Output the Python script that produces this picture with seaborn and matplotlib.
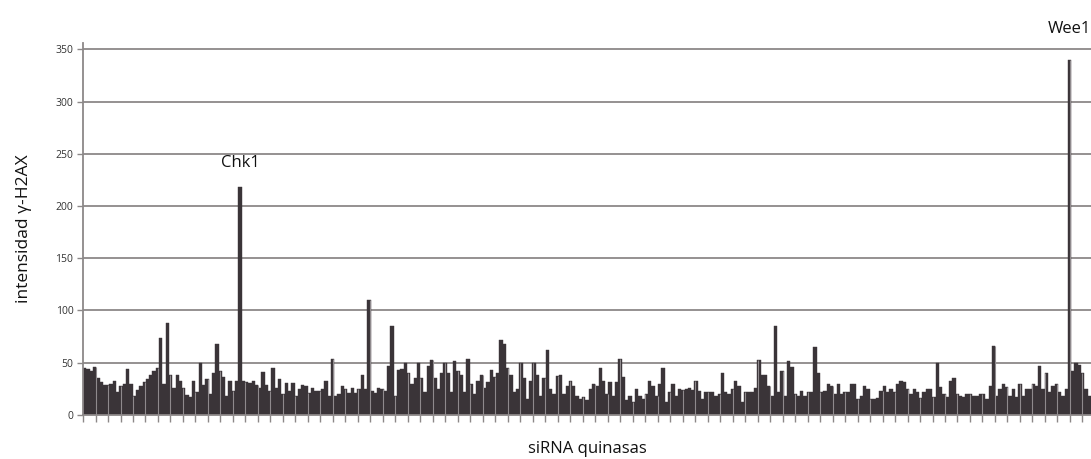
import numpy as np
import pandas as pd
import matplotlib
matplotlib.use("Agg")
import matplotlib.pyplot as plt
import seaborn as sns

# gamma-H2AX intensity for each kinase siRNA (left to right)
seg1 = [45, 44, 42, 46, 35, 32, 29, 29, 30, 33, 22, 28, 30, 44, 30, 18, 24, 28, 32, 34,
        38, 42, 45, 74, 30, 88, 38, 26, 38, 33, 26, 19, 17, 33, 22, 50, 29, 34, 20, 40,
        68, 42, 36]
seg2 = [18, 33, 23, 33, 218, 33, 32, 31, 33, 29, 26, 41, 29, 23, 45, 26, 34, 20, 31, 23,
        31, 18, 25, 29, 28, 21, 26, 23, 23, 25, 33, 18, 54, 18, 20, 28, 25, 21, 26, 21,
        25, 38, 25, 110]
seg3 = [23, 21, 26, 25, 23, 47, 85, 18, 43, 44, 50, 40, 30, 35, 50, 35, 22, 47, 53, 35,
        25, 40, 50, 40, 22, 52, 42, 38, 22, 54, 30, 20, 33, 38, 26, 32, 43, 36, 40, 72,
        68, 45, 38, 22]
seg4 = [25, 50, 35, 15, 33, 50, 38, 18, 35, 62, 25, 20, 37, 38, 20, 28, 33, 28, 18, 15,
        17, 14, 25, 30, 28, 45, 33, 20, 32, 18, 32, 54, 36, 14, 18, 12, 25, 18, 15, 20,
        33, 28, 18, 30]
seg5 = [45, 12, 22, 30, 18, 25, 24, 25, 26, 24, 33, 23, 15, 22, 22, 22, 18, 20, 40, 22,
        20, 25, 33, 28, 12, 22, 22, 22, 26, 53, 38, 38, 28, 18, 85, 22, 42, 18, 52, 46,
        20, 18, 23, 18]
seg6 = [22, 22, 65, 40, 22, 23, 30, 28, 20, 30, 20, 22, 22, 30, 30, 15, 18, 28, 25, 15,
        15, 16, 23, 28, 22, 25, 22, 30, 33, 32, 25, 20, 25, 22, 16, 22, 25, 25, 17, 50,
        27, 20, 17, 33]
seg7 = [35, 20, 18, 17, 20, 20, 18, 18, 20, 20, 15, 28, 66, 18, 25, 30, 27, 18, 25, 17,
        30, 18, 25, 25, 30, 28, 47, 25, 40, 22, 28, 30, 22, 18, 25, 340, 42, 50, 48, 40,
        25, 18]

values = seg1 + seg2 + seg3 + seg4 + seg5 + seg6 + seg7
kinase = list(range(len(values)))
labels = {"Chk1": 47, "Wee1": 298}
yticks = [0, 50, 100, 150, 200, 250, 300, 350]

df = pd.DataFrame({"kinase": kinase, "value": values})
N = len(values)

sns.set_theme(style="white")
plt.rcParams["font.family"] = ["Open Sans", "DejaVu Sans"]

fig = plt.figure(figsize=(10.91, 4.59), dpi=100)
ax = fig.add_axes([0.0761, 0.0959, 0.9239, 0.8104])

bar_color = "#3a3438"
grid_color = "#8c8888"

sns.barplot(data=df, x="kinase", y="value", color=bar_color, saturation=1,
            width=1.0, edgecolor=bar_color, linewidth=0.3, ax=ax, zorder=2)

ax.set_xlim(-0.5, N - 0.5)
ax.set_ylim(0, 356)
ax.set_yticks(yticks)
ax.set_yticklabels([str(v) for v in yticks], fontsize=7.5, color="#333333")
ax.yaxis.grid(True, color=grid_color, linewidth=1.3, zorder=0)
ax.set_axisbelow(True)

# category tick marks along the bottom, with light separators through the bars
step = 3.78
tpos = np.arange(-0.5, N - 0.5, step)
ax.set_xticks(tpos)
ax.set_xticklabels([])
seps_h = [values[min(int(np.floor(t + 0.5)), N - 1)] if t >= 0 else values[0] for t in tpos]
ax.vlines(tpos[1:], 0, seps_h[1:], color="#8f8a8d", linewidth=0.8, zorder=3)

ax.tick_params(axis="x", which="major", direction="out", length=5, width=1,
               color=grid_color, bottom=True)
ax.tick_params(axis="y", which="major", direction="out", length=4, width=1,
               color=grid_color, left=True, pad=3)

for s in ["top", "right"]:
    ax.spines[s].set_visible(False)
for s in ["left", "bottom"]:
    ax.spines[s].set_color(grid_color)
    ax.spines[s].set_linewidth(1.3)

ax.set_ylabel("intensidad γ-H2AX", fontsize=12.5, color="#111111", labelpad=17)
ax.set_xlabel("siRNA quinasas", fontsize=12, color="#111111", labelpad=10)

ax.text(labels["Chk1"], 241, "Chk1", ha="center", va="center", fontsize=12, color="#111111")
ax.text(labels["Wee1"], 369, "Wee1", ha="center", va="center", fontsize=12,
        color="#111111", clip_on=False)

fig.savefig("out.png", dpi=100)
